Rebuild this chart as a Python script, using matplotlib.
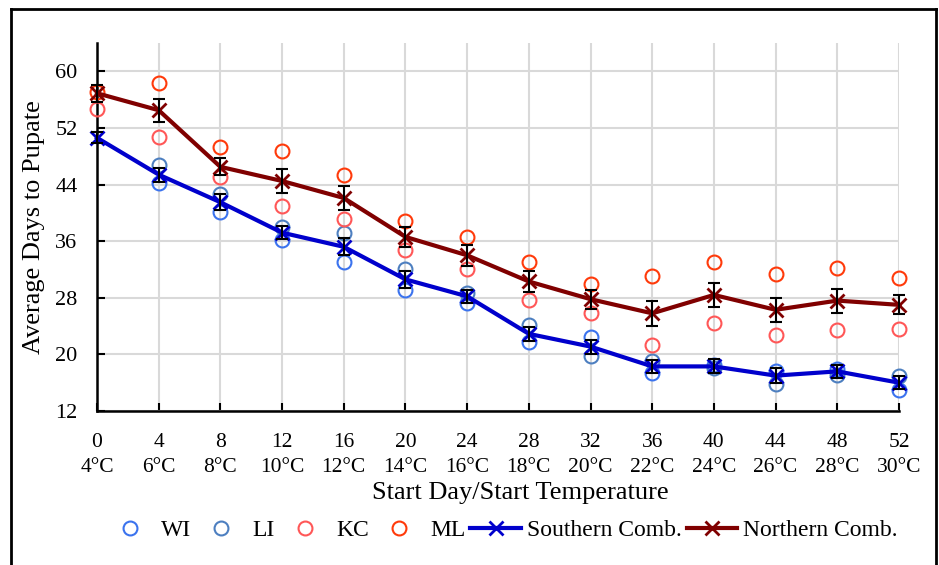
import matplotlib
matplotlib.use('Agg')
import matplotlib.pyplot as plt
import numpy as np
from matplotlib.lines import Line2D

plt.rcParams['font.family'] = ['Liberation Serif', 'DejaVu Serif']

# 数据
days = [0, 4, 8, 12, 16, 20, 24, 28, 32, 36, 40, 44, 48, 52]
temps = ['4°C', '6°C', '8°C', '10°C', '12°C', '14°C', '16°C', '18°C',
         '20°C', '22°C', '24°C', '26°C', '28°C', '30°C']
wi = [np.nan, 44.2, 40.1, 36.2, 33.0, 29.1, 27.3, 21.7, 22.4, 17.3, 18.5, 17.7, 18.0, 14.9]
li = [np.nan, 46.8, 42.7, 38.0, 37.2, 32.1, 28.7, 24.2, 19.8, 19.1, 18.1, 15.8, 17.1, 17.0]
kc = [54.7, 50.7, 45.0, 41.0, 39.1, 34.7, 32.1, 27.7, 25.8, 21.3, 24.4, 22.7, 23.5, 23.6]
ml = [57.1, 58.4, 49.3, 48.8, 45.3, 38.9, 36.6, 33.1, 30.0, 31.1, 33.1, 31.3, 32.2, 30.8]
southern = [50.6, 45.4, 41.5, 37.2, 35.2, 30.6, 28.2, 22.9, 21.1, 18.3, 18.3, 17.0, 17.6, 16.0]
southern_err = [0.8, 1.0, 1.1, 0.9, 1.2, 1.2, 0.9, 1.0, 1.0, 0.9, 1.0, 1.1, 0.9, 0.9]
northern = [56.9, 54.5, 46.5, 44.5, 42.1, 36.6, 34.0, 30.3, 27.8, 25.8, 28.4, 26.3, 27.6, 27.0]
northern_err = [1.2, 1.6, 1.2, 1.65, 1.7, 1.4, 1.5, 1.5, 1.35, 1.75, 1.7, 1.7, 1.7, 1.35]

fig = plt.figure(figsize=(9.39, 5.65), dpi=100)
ax = fig.add_axes([97/939, 1 - 411/565, (899 - 97)/939, (411 - 43)/565])

# 散点（空心圆）
circle_kw = dict(linestyle='none', marker='o', markersize=10, markerfacecolor='none',
                 markeredgewidth=1.5, clip_on=False, zorder=3)
ax.plot(days, wi, markeredgecolor='#3b73ee', label='WI', **circle_kw)
ax.plot(days, li, markeredgecolor='#4d7fc0', label='LI', **circle_kw)
ax.plot(days, kc, markeredgecolor='#ff5757', label='KC', **circle_kw)
ax.plot(days, ml, markeredgecolor='#ff3a0a', label='ML', **circle_kw)

# 折线 + 误差线
ax.plot(days, southern, color='#0000cc', lw=3, marker='x', markersize=10,
        markeredgewidth=2, clip_on=False, zorder=4, label='Southern Comb.')
ax.plot(days, northern, color='#800000', lw=3, marker='x', markersize=10,
        markeredgewidth=2, clip_on=False, zorder=4, label='Northern Comb.')
ax.errorbar(days, southern, yerr=southern_err, fmt='none', ecolor='black',
            elinewidth=1.5, capsize=4, capthick=1.5, zorder=5, clip_on=False)
ax.errorbar(days, northern, yerr=northern_err, fmt='none', ecolor='black',
            elinewidth=1.5, capsize=4, capthick=1.5, zorder=5, clip_on=False)

ax.set_xlim(0, 52)
ax.set_ylim(12, 64)
ax.set_yticks(np.arange(12, 61, 8))
ax.set_xticks(days)
ax.set_xticklabels([f'{d}\n{t}' for d, t in zip(days, temps)], linespacing=1.4)
ax.tick_params(axis='both', direction='in', length=6, width=1.5)
ax.tick_params(axis='x', pad=16, labelsize=15.5)
ax.tick_params(axis='y', pad=14, labelsize=16)
ax.grid(True, color='#d9d9d9', lw=1.5, zorder=0)
ax.set_axisbelow(True)
for s in ['top', 'right']:
    ax.spines[s].set_visible(False)
for s in ['left', 'bottom']:
    ax.spines[s].set_linewidth(1.8)

ax.set_ylabel('Average Days to Pupate', fontsize=19)
ax.yaxis.set_label_coords(-52/802, 0.5)
ax.set_xlabel('Start Day/Start Temperature', fontsize=19)
ax.xaxis.set_label_coords((520 - 97)/802, -(71)/368)

handles, labels = ax.get_legend_handles_labels()
fig.legend(handles, labels, loc='center', bbox_to_anchor=(0.5335, 1 - 530/565),
           ncol=6, frameon=False, fontsize=17, handlelength=2.15,
           handletextpad=0.25, columnspacing=0.2, borderaxespad=0)

# 外框
fig.add_artist(Line2D([11/939, 11/939], [0, 1 - 9/565], color='black', lw=2))
fig.add_artist(Line2D([11/939, 936/939], [1 - 9/565, 1 - 9/565], color='black', lw=2))
fig.add_artist(Line2D([936/939, 936/939], [0, 1 - 9/565], color='black', lw=2))

fig.savefig('out.png', dpi=100)
